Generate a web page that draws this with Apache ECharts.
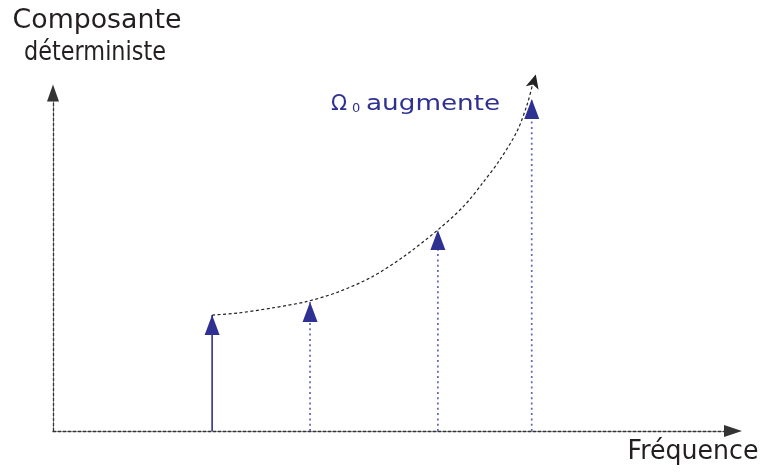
<!DOCTYPE html>
<html>
<head>
<meta charset="utf-8">
<script src="https://cdn.jsdelivr.net/npm/echarts@6/dist/echarts.min.js"></script>
<style>html,body{margin:0;padding:0;background:#fff;}#c{width:766px;height:472px;}</style>
</head>
<body>
<div id="c"></div>
<script>
// Dirac lines: frequency positions and amplitudes (arbitrary units 0..100)
const diracX = [23.4, 37.8, 56.6, 70.4];
const diracH = [34.3, 38.2, 59.5, 98.2];
// Trend curve ("Ω0 augmente"), last point carries the arrow
const curveX = [23.4, 27.2, 32.2, 37.1, 41.9, 46.9, 51.5, 56.6, 60.3, 63.2, 65.7, 68.2, 69.7, 70.6, 71.0];
const curveY = [34.3, 34.9, 36.4, 38.2, 41.1, 45.6, 51.5, 59.5, 66.3, 73.4, 80.2, 88.5, 96.4, 103.0, 105.5];
const axisNameX = 'Fréquence';
const axisNameY1 = 'Composante';
const axisNameY2 = 'déterministe';
const trendLabel = 'augmente';

const blue = '#2e3192';
const lightBlue = '#6264bd';
const ink = '#231f20';
const font = 'DejaVu Sans';

const chart = echarts.init(document.getElementById('c'), null, {renderer: 'canvas'});

const series = [];
diracX.forEach((x, i) => {
  series.push({
    type: 'line',
    data: [
      {value: [x, 0], symbol: 'none'},
      {value: [x, diracH[i]], symbol: 'triangle', symbolSize: [15, 20], symbolOffset: [0, '50%']}
    ],
    lineStyle: i === 0 ? {color: blue, width: 1.6, type: 'solid'} : {color: lightBlue, width: 1.7, type: [2, 3.3]},
    itemStyle: {color: blue},
    showSymbol: true,
    clip: false,
    silent: true,
    animation: false,
    z: 3
  });
});
const curveData = curveX.map((x, i) => {
  if (i === curveX.length - 1) {
    return {value: [x, curveY[i]], symbol: 'arrow', symbolSize: [10, 14], symbolRotate: -15};
  }
  return {value: [x, curveY[i]], symbol: 'none'};
});
series.push({
  type: 'line',
  data: curveData,
  smooth: 0.3,
  lineStyle: {color: '#222', width: 1.2, type: [3, 2.5]},
  itemStyle: {color: '#222'},
  showSymbol: true,
  clip: false,
  silent: true,
  animation: false,
  z: 4
});

const axisCommon = {
  type: 'value', min: 0, max: 100,
  axisLabel: {show: false}, axisTick: {show: false}, splitLine: {show: false}
};

chart.setOption({
  animation: false,
  backgroundColor: '#fff',
  grid: {left: 53, right: 33, top: 93, bottom: 41, containLabel: false},
  xAxis: Object.assign({}, axisCommon, {
    axisLine: {show: true, symbol: ['none', 'triangle'], symbolSize: [12, 18],
      lineStyle: {color: '#333', width: 1.3, type: [3, 2]}}
  }),
  yAxis: Object.assign({}, axisCommon, {
    axisLine: {show: true, symbol: ['none', 'triangle'], symbolSize: [12, 17],
      lineStyle: {color: '#333', width: 1.3, type: [3, 2]}}
  }),
  series: series,
  graphic: [
    {type: 'text', x: 97, y: 21, scaleX: 1.03, style: {text: axisNameY1, font: '26px "' + font + '"', fill: ink, textAlign: 'center', textVerticalAlign: 'middle'}},
    {type: 'text', x: 95, y: 53, scaleX: 0.86, style: {text: axisNameY2, font: '26px "' + font + '"', fill: ink, textAlign: 'center', textVerticalAlign: 'middle'}},
    {type: 'text', x: 693, y: 452, scaleX: 0.97, style: {text: axisNameX, font: '26px "' + font + '"', fill: ink, textAlign: 'center', textVerticalAlign: 'middle'}},
    {type: 'text', x: 331, y: 105, style: {text: 'Ω', font: '21px "' + font + '"', fill: blue, textAlign: 'left', textVerticalAlign: 'middle'}},
    {type: 'text', x: 352, y: 109, style: {text: '0', font: '13px "' + font + '"', fill: blue, textAlign: 'left', textVerticalAlign: 'middle'}},
    {type: 'text', x: 366, y: 105, scaleX: 1.25, style: {text: trendLabel, font: '21px "' + font + '"', fill: blue, textAlign: 'left', textVerticalAlign: 'middle'}}
  ]
});
</script>
</body>
</html>
